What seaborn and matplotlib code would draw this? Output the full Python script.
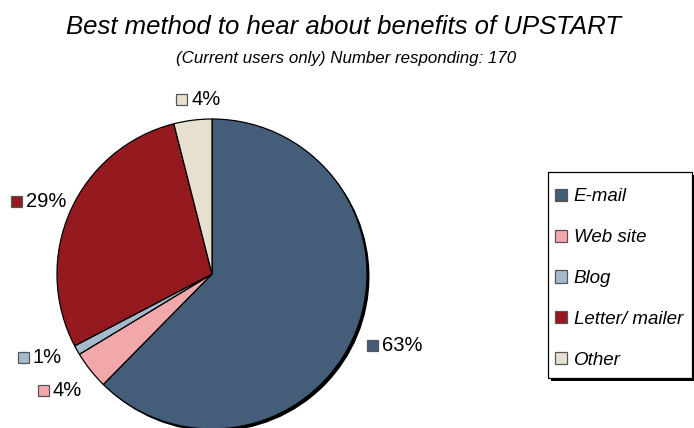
import numpy as np
import matplotlib
matplotlib.use("Agg")
import matplotlib.pyplot as plt
from matplotlib.patches import Circle, Rectangle
import seaborn as sns

# Survey responses (percent of current users)
categories = ["E-mail", "Web site", "Blog", "Letter/ mailer", "Other"]
shares = [63, 4, 1, 29, 4]
colors = ["#445E7A", "#F2A7AA", "#A7BACD", "#951A1F", "#E8E0CE"]

sns.set_theme(style="white")
plt.rcParams["font.family"] = ["Liberation Sans", "DejaVu Sans"]
plt.rcParams["text.color"] = "black"

W, H = 694, 428
fig = plt.figure(figsize=(W / 100, H / 100), dpi=100)
ax = fig.add_axes([0, 0, 1, 1])

cx, cy, R = 212, H - 274, 155

# drop shadow under the pie
ax.add_patch(Circle((cx + 2.5, cy - 2.5), R, facecolor="black", edgecolor="none", zorder=1))

wedges, _ = ax.pie(
    shares, colors=colors, startangle=90, counterclock=False,
    center=(cx, cy), radius=R, frame=True,
    wedgeprops=dict(edgecolor="black", linewidth=0.9, zorder=2),
)
ax.set_xlim(0, W)
ax.set_ylim(0, H)
ax.set_aspect("equal")
ax.axis("off")

# percentage labels with a colour key square, placed around each wedge's middle
label_dist = [1.265, 1.235, 1.235, 1.21, 1.13]
label_nudge = [-1.0, 1.0, 3.5, -1.2, 2.7]   # degrees
total = sum(shares)
cum = 0.0
renderer = fig.canvas.get_renderer()
for val, col, d, nd in zip(shares, colors, label_dist, label_nudge):
    mid = np.deg2rad((cum + val / 2) / total * 360 + nd)
    cum += val
    lx = cx + np.sin(mid) * R * d
    ly = cy + np.cos(mid) * R * d
    t = ax.text(0, ly, f"{val}%", ha="left", va="center", fontsize=14.5,
                color="black", zorder=3)
    tw = t.get_window_extent(renderer).width
    x0 = lx - (tw + 15) / 2
    t.set_x(x0 + 15)
    ax.add_patch(Rectangle((x0, ly - 5.5), 11, 11, facecolor=col,
                           edgecolor="#555555", linewidth=0.9, zorder=3))

fig.text(344 / W, 1 - 27 / H, "Best method to hear about benefits of UPSTART",
         ha="center", va="center", fontsize=18.5, style="italic", color="black")
fig.text(346 / W, 1 - 58 / H, "(Current users only) Number responding: 170",
         ha="center", va="center", fontsize=12.2, style="italic", color="black")

# legend box with a hard drop shadow
lx0, ly0, lx1, ly1 = 548, H - 378, 692, H - 172
ax.add_patch(Rectangle((lx0 + 3, ly0 - 3), lx1 - lx0, ly1 - ly0, facecolor="black",
                       edgecolor="none", zorder=4, clip_on=False))
ax.add_patch(Rectangle((lx0, ly0), lx1 - lx0, ly1 - ly0, facecolor="white",
                       edgecolor="black", linewidth=0.9, zorder=5, clip_on=False))

leg = ax.legend(
    wedges, categories, loc="upper left",
    bbox_to_anchor=(547 / W, 1 - 180 / H), bbox_transform=fig.transFigure,
    frameon=False, prop={"style": "italic", "size": 13.5},
    handlelength=0.62, handleheight=0.62, handletextpad=0.36,
    labelspacing=1.27, borderpad=0.45, borderaxespad=0,
)
leg.set_zorder(6)
for h in leg.legend_handles:
    h.set_edgecolor("#555555")

fig.savefig("out.png", dpi=100, facecolor="white")
